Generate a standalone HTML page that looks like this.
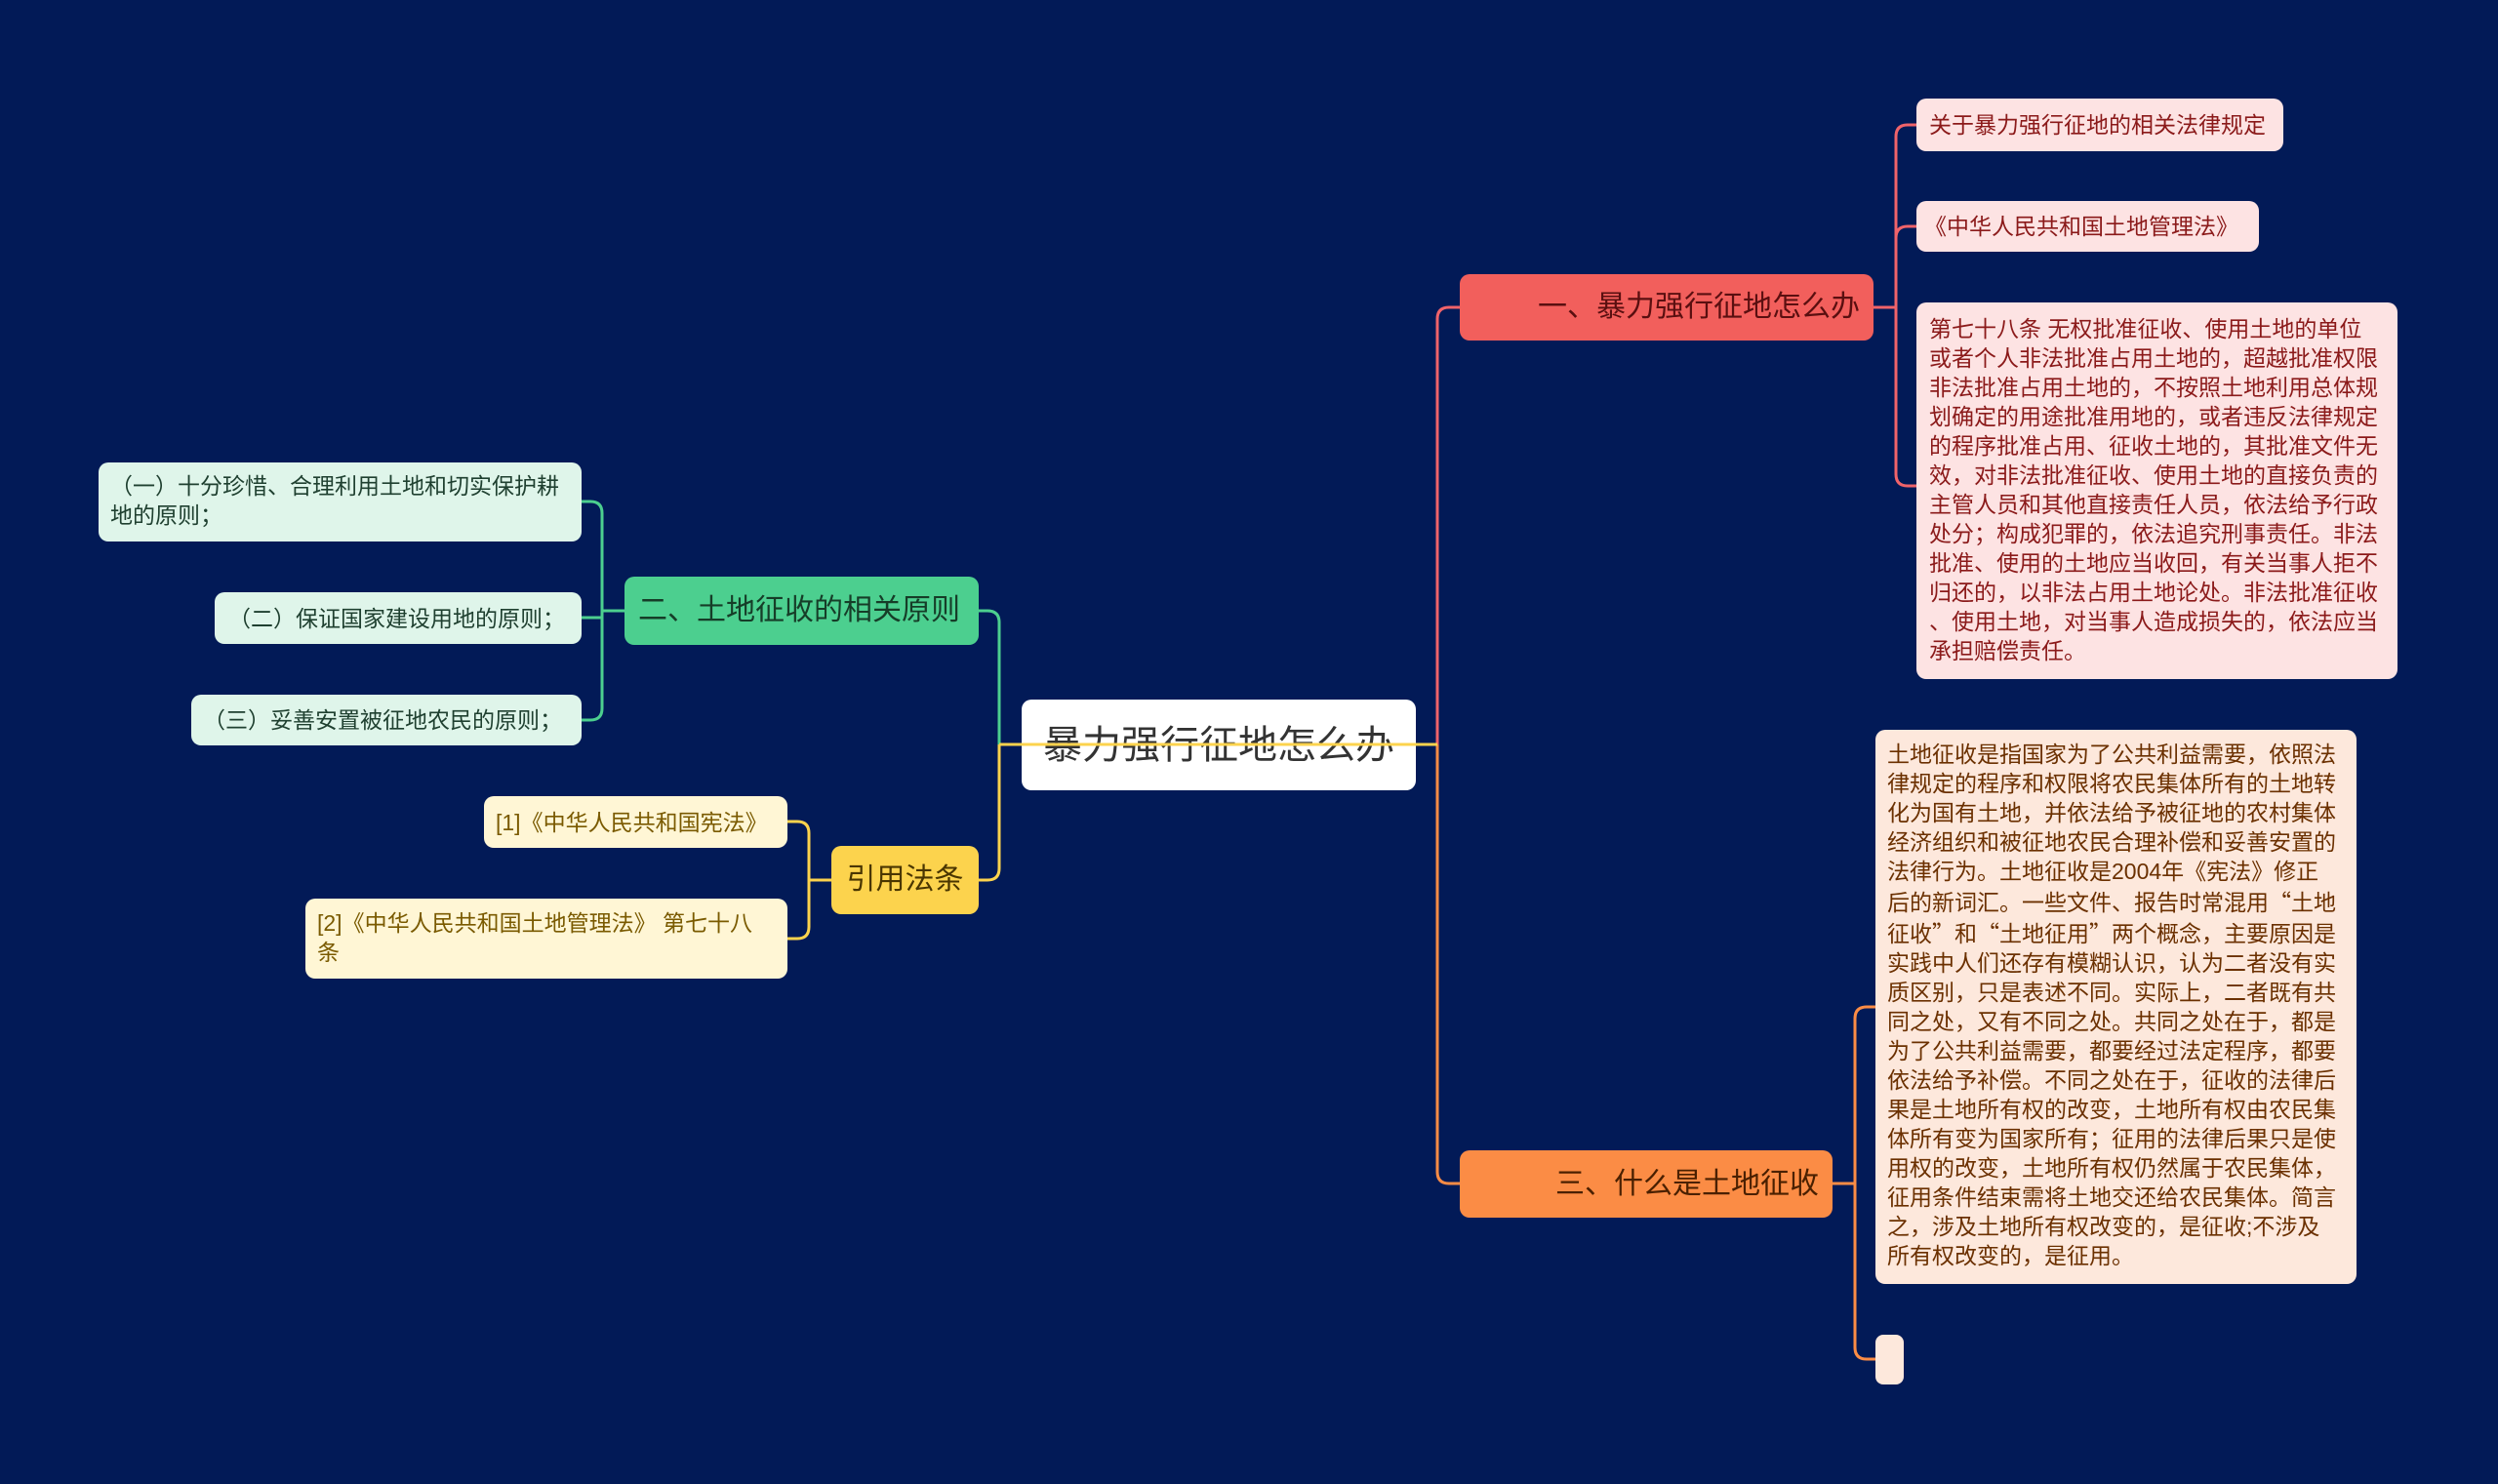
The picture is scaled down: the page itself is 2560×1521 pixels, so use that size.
<!DOCTYPE html>
<html><head><meta charset="utf-8">
<style>
*{margin:0;padding:0;box-sizing:border-box}
body{width:2560px;height:1521px;background:#021a57;position:relative;overflow:hidden;font-family:"Liberation Sans","Noto Sans CJK SC",sans-serif}
.n{position:absolute;border-radius:10px;white-space:nowrap;font-size:23px;line-height:30px}
.c{display:flex;align-items:center}
.q{font-family:"Noto Sans CJK SC",sans-serif}
svg{position:absolute;left:0;top:0}
</style></head><body>
<div class="n c" style="left:1047px;top:717px;width:404px;height:93px;background:#fff;color:#333;font-size:40px;justify-content:center">暴力强行征地怎么办</div>

<div class="n c" style="left:1496px;top:281px;width:424px;height:68px;background:#f25f5c;color:#5a0f10;font-size:30px;justify-content:flex-end;padding-right:14px">一、暴力强行征地怎么办</div>
<div class="n c" style="left:1964px;top:101px;width:376px;height:54px;background:#fde3e3;color:#8b1a1a;padding-left:13px">关于暴力强行征地的相关法律规定</div>
<div class="n c" style="left:1964px;top:206px;width:351px;height:52px;background:#fde3e3;color:#8b1a1a;padding-left:8px">《中华人民共和国土地管理法》</div>
<div class="n" style="left:1964px;top:310px;width:493px;height:386px;background:#fde3e3;color:#8b1a1a;padding:12px 12px 0 13px">第七十八条 无权批准征收、使用土地的单位<br>或者个人非法批准占用土地的，超越批准权限<br>非法批准占用土地的，不按照土地利用总体规<br>划确定的用途批准用地的，或者违反法律规定<br>的程序批准占用、征收土地的，其批准文件无<br>效，对非法批准征收、使用土地的直接负责的<br>主管人员和其他直接责任人员，依法给予行政<br>处分；构成犯罪的，依法追究刑事责任。非法<br>批准、使用的土地应当收回，有关当事人拒不<br>归还的，以非法占用土地论处。非法批准征收<br>、使用土地，对当事人造成损失的，依法应当<br>承担赔偿责任。</div>

<div class="n c" style="left:1496px;top:1179px;width:382px;height:69px;background:#fb8c45;color:#4a2000;font-size:30px;justify-content:flex-end;padding-right:14px">三、什么是土地征收</div>
<div class="n" style="left:1922px;top:748px;width:493px;height:568px;background:#fde8dc;color:#6b3000;padding:10px 10px 0 12px">土地征收是指国家为了公共利益需要，依照法<br>律规定的程序和权限将农民集体所有的土地转<br>化为国有土地，并依法给予被征地的农村集体<br>经济组织和被征地农民合理补偿和妥善安置的<br>法律行为。土地征收是2004年《宪法》修正<br>后的新词汇。一些文件、报告时常混用<span class="q">“</span>土地<br>征收<span class="q">”</span>和<span class="q">“</span>土地征用<span class="q">”</span>两个概念，主要原因是<br>实践中人们还存有模糊认识，认为二者没有实<br>质区别，只是表述不同。实际上，二者既有共<br>同之处，又有不同之处。共同之处在于，都是<br>为了公共利益需要，都要经过法定程序，都要<br>依法给予补偿。不同之处在于，征收的法律后<br>果是土地所有权的改变，土地所有权由农民集<br>体所有变为国家所有；征用的法律后果只是使<br>用权的改变，土地所有权仍然属于农民集体，<br>征用条件结束需将土地交还给农民集体。简言<br>之，涉及土地所有权改变的，是征收;不涉及<br>所有权改变的，是征用。</div>
<div class="n" style="left:1922px;top:1368px;width:29px;height:51px;background:#fde8dc;border-radius:8px"></div>

<div class="n c" style="left:640px;top:591px;width:363px;height:70px;background:#4ccf8f;color:#163d28;font-size:30px;padding-left:14px">二、土地征收的相关原则</div>
<div class="n" style="left:101px;top:474px;width:495px;height:81px;background:#dff5ea;color:#1f4030;padding:9px 10px 0 12px">（一）十分珍惜、合理利用土地和切实保护耕<br>地的原则；</div>
<div class="n c" style="left:220px;top:607px;width:376px;height:53px;background:#dff5ea;color:#1f4030;padding-left:14px">（二）保证国家建设用地的原则；</div>
<div class="n c" style="left:196px;top:712px;width:400px;height:52px;background:#dff5ea;color:#1f4030;padding-left:12px">（三）妥善安置被征地农民的原则；</div>

<div class="n c" style="left:852px;top:867px;width:151px;height:70px;background:#fcd34d;color:#4a3600;font-size:30px;justify-content:center">引用法条</div>
<div class="n c" style="left:496px;top:816px;width:311px;height:53px;background:#fff6d5;color:#7a5a00;padding-left:12px">[1]《中华人民共和国宪法》</div>
<div class="n" style="left:313px;top:921px;width:494px;height:82px;background:#fff6d5;color:#7a5a00;padding:10px 10px 0 12px">[2]《中华人民共和国土地管理法》 第七十八<br>条</div>

<svg width="2560" height="1521" fill="none" stroke-width="3">
<path d="M1473 763 V327 Q1473 315 1485 315 H1496" stroke="#f0636a"/>
<path d="M1473 763 V1201 Q1473 1213 1485 1213 H1496" stroke="#fb8c45"/>
<path d="M1024 763 V638 Q1024 626 1012 626 H1003" stroke="#4ccf8f"/>
<path d="M1024 763 V890 Q1024 902 1012 902 H1003" stroke="#fcd34d"/>
<path d="M1024 763 H1473" stroke="#fcd34d"/>
<path d="M1920 315 H1943 M1943 315 V140 Q1943 128 1955 128 H1964 M1943 315 V244 Q1943 232 1955 232 H1964 M1943 315 V486 Q1943 498 1955 498 H1964" stroke="#f0636a"/>
<path d="M1878 1213 H1901 M1901 1213 V1044 Q1901 1032 1913 1032 H1922 M1901 1213 V1381 Q1901 1393 1913 1393 H1922" stroke="#fb8c45"/>
<path d="M640 626 H617 M617 626 V526 Q617 514 605 514 H596 M617 626 V633 H596 M617 626 V726 Q617 738 605 738 H596" stroke="#4ccf8f"/>
<path d="M852 902 H829 M829 902 V854 Q829 842 817 842 H807 M829 902 V950 Q829 962 817 962 H807" stroke="#fcd34d"/>
</svg>
</body></html>
